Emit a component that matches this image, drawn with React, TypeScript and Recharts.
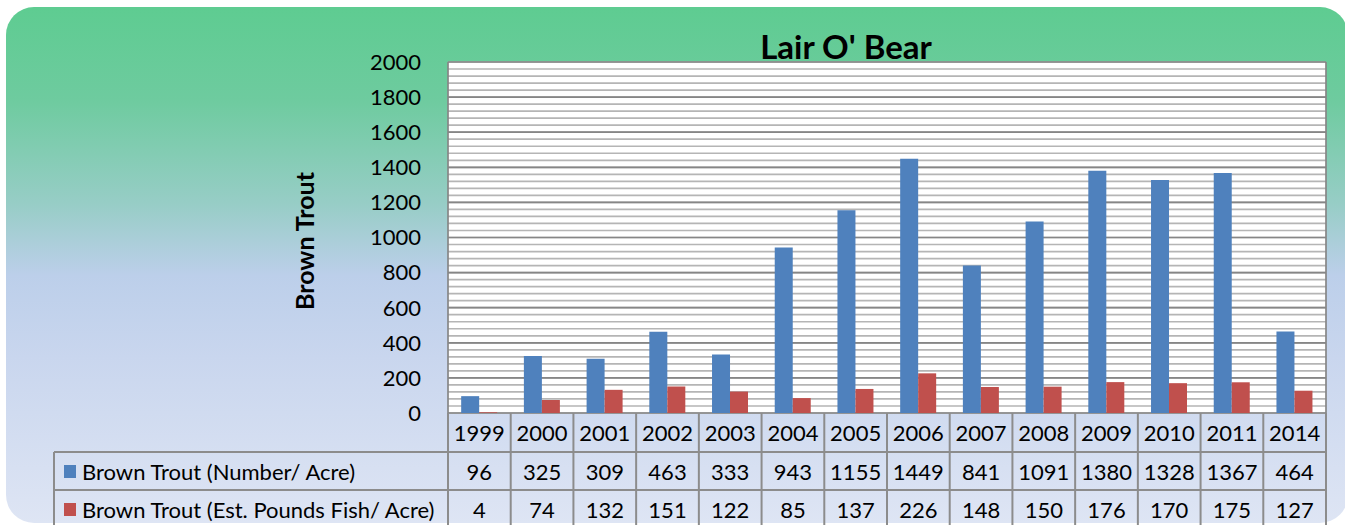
import React from 'react';
import { BarChart, Bar, XAxis, YAxis, CartesianGrid, Customized } from 'recharts';

const years = ['1999', '2000', '2001', '2002', '2003', '2004', '2005', '2006', '2007', '2008', '2009', '2010', '2011', '2014'];
const numberPerAcre = [96, 325, 309, 463, 333, 943, 1155, 1449, 841, 1091, 1380, 1328, 1367, 464];
const poundsPerAcre = [4, 74, 132, 151, 122, 85, 137, 226, 148, 150, 176, 170, 175, 127];
const yTicks = [0, 200, 400, 600, 800, 1000, 1200, 1400, 1600, 1800, 2000];
const minorTicks = Array.from({ length: 51 }, (_, i) => i * 40);

const seriesNames = ['Brown Trout (Number/ Acre)', 'Brown Trout (Est. Pounds Fish/ Acre)'];
const seriesColors = ['#4F81BD', '#C0504D'];

const data = years.map((y, i) => ({ year: y, num: numberPerAcre[i], lbs: poundsPerAcre[i] }));

const W = 1345;
const H = 525;
const PLOT_L = 448;
const PLOT_R = 1326;
const PLOT_T = 62;
const PLOT_B = 413;
const ROW1 = 452;
const ROW2 = 490;
const TABLE_L = 54;
const FONT = 'Lato, "Noto Sans", sans-serif';
const LINE = '#8C8C8C';

const colW = (PLOT_R - PLOT_L) / years.length;

const TableTick = (props: any) => {
  const { x, payload } = props;
  const i = payload.index;
  const tx = { fontFamily: FONT, fontSize: 22, fill: '#000', textAnchor: 'middle' as const, dominantBaseline: 'central' as const };
  return (
    <g>
      {i === 0 && (
        <g>
          <line x1={x - colW / 2} y1={PLOT_B} x2={x - colW / 2} y2={H} stroke={LINE} strokeWidth={2} />
          <line x1={TABLE_L} y1={ROW1} x2={PLOT_R} y2={ROW1} stroke={LINE} strokeWidth={2} />
          <line x1={TABLE_L} y1={ROW2} x2={PLOT_R} y2={ROW2} stroke={LINE} strokeWidth={2} />
          <line x1={TABLE_L} y1={ROW1} x2={TABLE_L} y2={H} stroke={LINE} strokeWidth={2} />
          {seriesNames.map((n, k) => {
            const cy = k === 0 ? (ROW1 + ROW2) / 2 : (ROW2 + H + 3) / 2;
            return (
              <g key={n}>
                <rect x={64} y={cy - 6} width={12} height={13} fill={seriesColors[k]} />
                <text x={82} y={cy} fontFamily={FONT} fontSize={22} fill="#000" dominantBaseline="central">{n}</text>
              </g>
            );
          })}
        </g>
      )}
      <line x1={x + colW / 2} y1={PLOT_B} x2={x + colW / 2} y2={H} stroke={LINE} strokeWidth={2} />
      <text x={x} y={(PLOT_B + ROW1) / 2} {...tx}>{years[i]}</text>
      <text x={x} y={(ROW1 + ROW2) / 2} {...tx}>{numberPerAcre[i]}</text>
      <text x={x} y={(ROW2 + H + 3) / 2} {...tx}>{poundsPerAcre[i]}</text>
    </g>
  );
};

const Labels = () => (
  <g>
    <text x={846} y={46} textAnchor="middle" dominantBaseline="central" fontFamily={FONT} fontWeight="bold" fontSize={33} fill="#000">Lair O' Bear</text>
    <text x={304} y={241} transform="rotate(-90 304 241)" textAnchor="middle" dominantBaseline="central" fontFamily={FONT} fontWeight="bold" fontSize={25} fill="#000">Brown Trout</text>
  </g>
);

export default function App() {
  return (
    <div style={{ position: 'absolute', left: 0, top: 0, width: W, height: H, overflow: 'hidden' }}>
      <div
        style={{
          position: 'absolute',
          left: 6,
          top: 7,
          width: 1342,
          height: 516,
          borderRadius: 28,
          background: 'linear-gradient(to bottom, #5ECC91 0%, #6ECB9F 18%, #97CDC6 38%, #BCCFEA 52%, #C9D6EE 68%, #DEE5F4 100%)',
        }}
      />
      <div style={{ position: 'absolute', left: 0, top: 0 }}>
        <BarChart
          width={W}
          height={H}
          data={data}
          margin={{ top: PLOT_T, right: W - PLOT_R, bottom: 0, left: 0 }}
          barCategoryGap="21%"
          barGap={0}
        >
          <CartesianGrid
            fill="#FFFFFF"
            horizontalValues={minorTicks}
            vertical={false}
            stroke="#B5B5B5"
            strokeWidth={1.7}
          />
          <CartesianGrid
            horizontalValues={yTicks}
            verticalPoints={[PLOT_L, PLOT_R]}
            stroke="#868686"
            strokeWidth={1.7}
          />
          <YAxis
            width={PLOT_L}
            domain={[0, 2000]}
            ticks={yTicks}
            axisLine={false}
            tickLine={false}
            tickSize={6}
            tickMargin={21}
            interval={0}
            tick={{ fontFamily: FONT, fontSize: 22, fill: '#000' }}
          />
          <XAxis
            dataKey="year"
            height={H - PLOT_B}
            axisLine={false}
            tickLine={false}
            interval={0}
            tick={<TableTick />}
          />
          <Bar dataKey="num" fill={seriesColors[0]} isAnimationActive={false} />
          <Bar dataKey="lbs" fill={seriesColors[1]} isAnimationActive={false} />
          <Customized component={Labels} />
        </BarChart>
      </div>
    </div>
  );
}
